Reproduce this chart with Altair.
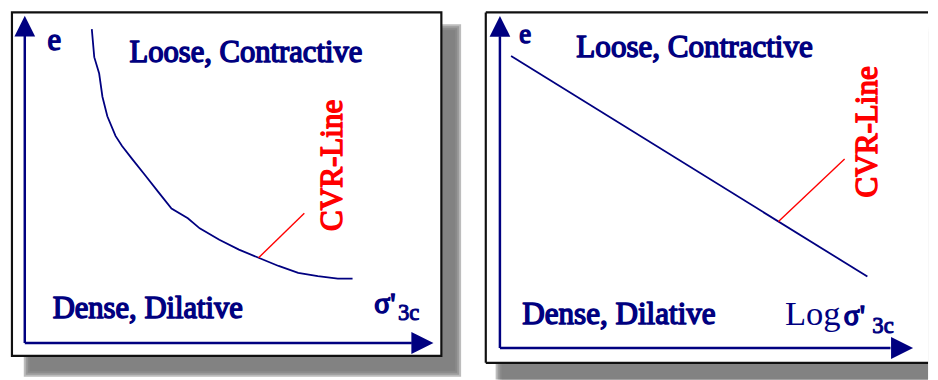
import altair as alt
import pandas as pd

# ---------------- data (axis units: each arrow axis spans roughly 0..10) ----------------
# Left panel: e versus sigma'_3c, hyperbolic CVR curve
left_curve_x = [1.64, 1.70, 1.82, 1.90, 2.02, 2.22, 2.38, 2.63, 2.95, 3.27, 3.59, 3.99,
                4.28, 4.76, 5.24, 5.72, 6.21, 6.69, 7.17, 7.66, 8.02]
left_curve_y = [9.61, 8.75, 8.25, 7.54, 6.94, 6.34, 6.03, 5.63, 5.13, 4.62, 4.12, 3.82,
                3.51, 3.16, 2.86, 2.61, 2.36, 2.15, 2.05, 1.97, 1.97]
left_pointer_x = [5.72, 6.84]
left_pointer_y = [2.61, 3.97]
left_xaxis_x = [0.0, 9.47]
left_yaxis_y = [0.0, 9.40]
left_xhead = [9.73, 0.0]
left_yhead = [0.0, 9.70]
left_labels = ["e", "Loose, Contractive", "Dense, Dilative", "σ'", "3c", "CVR-Line"]
left_label_x = [0.556, 5.41, 3.01, 8.55, 9.13, 7.75]
left_label_y = [8.97, 8.61, 0.755, 0.906, 0.695, 5.44]

# Right panel: e versus Log sigma'_3c, straight CVR line
right_line_x = [0.27, 8.89]
right_line_y = [8.82, 2.16]
right_pointer_x = [6.74, 8.34]
right_pointer_y = [3.82, 5.71]
right_xaxis_x = [0.0, 9.45]
right_yaxis_y = [0.0, 9.42]
right_xhead = [9.73, 0.0]
right_yhead = [0.0, 9.72]
right_labels = ["e", "Loose, Contractive", "Dense, Dilative", "Log", "σ'", "3c", "CVR-Line"]
right_label_x = [0.47, 4.71, 2.88, 6.895, 8.32, 9.01, 9.12]
right_label_y = [9.22, 8.79, 0.74, 0.686, 0.686, 0.447, 6.53]

NAVY = "#000080"
RED = "#ff0000"
SERIF = "Liberation Serif"
UP = "M0,-1L1,1L-1,1Z"
RIGHT = "M1,0L-1,-1L-1,1Z"


def panel(xdom, ydom, w, h, curve, pointer, xaxis_x, yaxis_y, xhead, yhead,
          labels, lx, ly, label_styles, shadow, frame_full):
    def X(f):
        return alt.X(f, type="quantitative", axis=None,
                     scale=alt.Scale(domain=xdom, nice=False, zero=False))

    def Y(f):
        return alt.Y(f, type="quantitative", axis=None,
                     scale=alt.Scale(domain=ydom, nice=False, zero=False))

    one = pd.DataFrame({"k": [0]})
    layers = []
    # soft drop shadow from stacked translucent rects
    sx, sy, sx2, sy2, fade_right, fade_bottom = shadow
    for k in range(4):
        layers.append(
            alt.Chart(one).mark_rect(
                color="#7a7a7a", opacity=0.5,
                x2Offset=sx2 - (2 * k if fade_right else 0),
                y2Offset=sy2 - (2 * k if fade_bottom else 0),
            ).encode(x=alt.value(sx + 2 * k), x2=alt.value("width"),
                     y=alt.value(sy + 2 * k), y2=alt.value("height"))
        )
    # white framed box
    if frame_full:
        layers.append(
            alt.Chart(one).mark_rect(fill="white", stroke="#101010", strokeWidth=2.2)
            .encode(x=alt.value(0), x2=alt.value("width"),
                    y=alt.value(0), y2=alt.value("height"))
        )
    else:
        layers.append(
            alt.Chart(one).mark_rect(fill="white")
            .encode(x=alt.value(0), x2=alt.value("width"),
                    y=alt.value(0), y2=alt.value("height"))
        )
        for enc in (
            dict(x=alt.value(0), x2=alt.value("width"), y=alt.value(0)),
            dict(x=alt.value(0), y=alt.value(0), y2=alt.value("height")),
            dict(x=alt.value(0), x2=alt.value("width"), y=alt.value("height")),
        ):
            layers.append(alt.Chart(one).mark_rule(color="#101010", strokeWidth=2.2).encode(**enc))

    # arrow axes
    ax = pd.DataFrame({"x": xaxis_x, "y": [0.0, 0.0]})
    ay = pd.DataFrame({"x": [0.0, 0.0], "y": yaxis_y})
    for d in (ax, ay):
        layers.append(alt.Chart(d).mark_line(color=NAVY, strokeWidth=2.5)
                      .encode(x=X("x"), y=Y("y")))
    hx = pd.DataFrame({"x": [xhead[0]], "y": [xhead[1]]})
    hy = pd.DataFrame({"x": [yhead[0]], "y": [yhead[1]]})
    layers.append(alt.Chart(hx).mark_point(shape=RIGHT, filled=True, size=500, color=NAVY,
                                           opacity=1, strokeWidth=0)
                  .encode(x=X("x"), y=Y("y")))
    layers.append(alt.Chart(hy).mark_point(shape=UP, filled=True, size=441, color=NAVY,
                                           opacity=1, strokeWidth=0)
                  .encode(x=X("x"), y=Y("y")))

    # CVR curve / line and red pointer
    cd = pd.DataFrame({"x": curve[0], "y": curve[1], "o": list(range(len(curve[0])))})
    layers.append(alt.Chart(cd).mark_line(color=NAVY, strokeWidth=1.8)
                  .encode(x=X("x"), y=Y("y"), order="o:Q"))
    pd_ = pd.DataFrame({"x": pointer[0], "y": pointer[1]})
    layers.append(alt.Chart(pd_).mark_line(color=RED, strokeWidth=1.4)
                  .encode(x=X("x"), y=Y("y")))

    # labels (serif, bold simulated with an outline of the same colour)
    for t, x, y, st in zip(labels, lx, ly, label_styles):
        d = pd.DataFrame({"x": [x], "y": [y], "t": [t]})
        layers.append(alt.Chart(d).mark_text(font=SERIF, baseline="alphabetic", **st)
                      .encode(x=X("x"), y=Y("y"), text="t:N"))

    return alt.layer(*layers).properties(width=w, height=h)


def heavy(size, align="left", color=NAVY, sw=1.5, **kw):
    return dict(fontSize=size, align=align, color=color, stroke=color, strokeWidth=sw,
                strokeJoin="round", fontWeight="normal", **kw)


left_styles = [
    heavy(31),
    heavy(31, "center"),
    heavy(31, "center"),
    heavy(30),
    heavy(23, sw=1.0),
    heavy(31.5, "center", color=RED, angle=270),
]
right_styles = [
    heavy(27),
    heavy(31.5, "center"),
    heavy(31.5, "center"),
    dict(fontSize=35, align="left", fontWeight="normal", color=NAVY),
    heavy(30),
    heavy(23, sw=1.0),
    heavy(31.5, "center", color=RED, angle=270),
]

left = panel([-0.314, 10.193], [-0.393, 10.121], 435, 348,
             (left_curve_x, left_curve_y), (left_pointer_x, left_pointer_y),
             left_xaxis_x, left_yaxis_y, left_xhead, left_yhead,
             left_labels, left_label_x, left_label_y, left_styles,
             (12, 12, 20, 21, True, True), True)

right = panel([-0.342, 10.358], [-0.447, 10.140], 448, 355,
              (right_line_x, right_line_y), (right_pointer_x, right_pointer_y),
              right_xaxis_x, right_yaxis_y, right_xhead, right_yhead,
              right_labels, right_label_x, right_label_y, right_styles,
              (10, 14, 0, 17, False, False), False)

chart = (
    alt.hconcat(left, right, spacing=45, bounds="flush")
    .properties(padding={"left": 2, "top": 0, "right": 0, "bottom": 0}, background="white")
    .configure_view(strokeWidth=0)
)

chart.save("out.html", embed_options={"renderer": "svg", "actions": False})
